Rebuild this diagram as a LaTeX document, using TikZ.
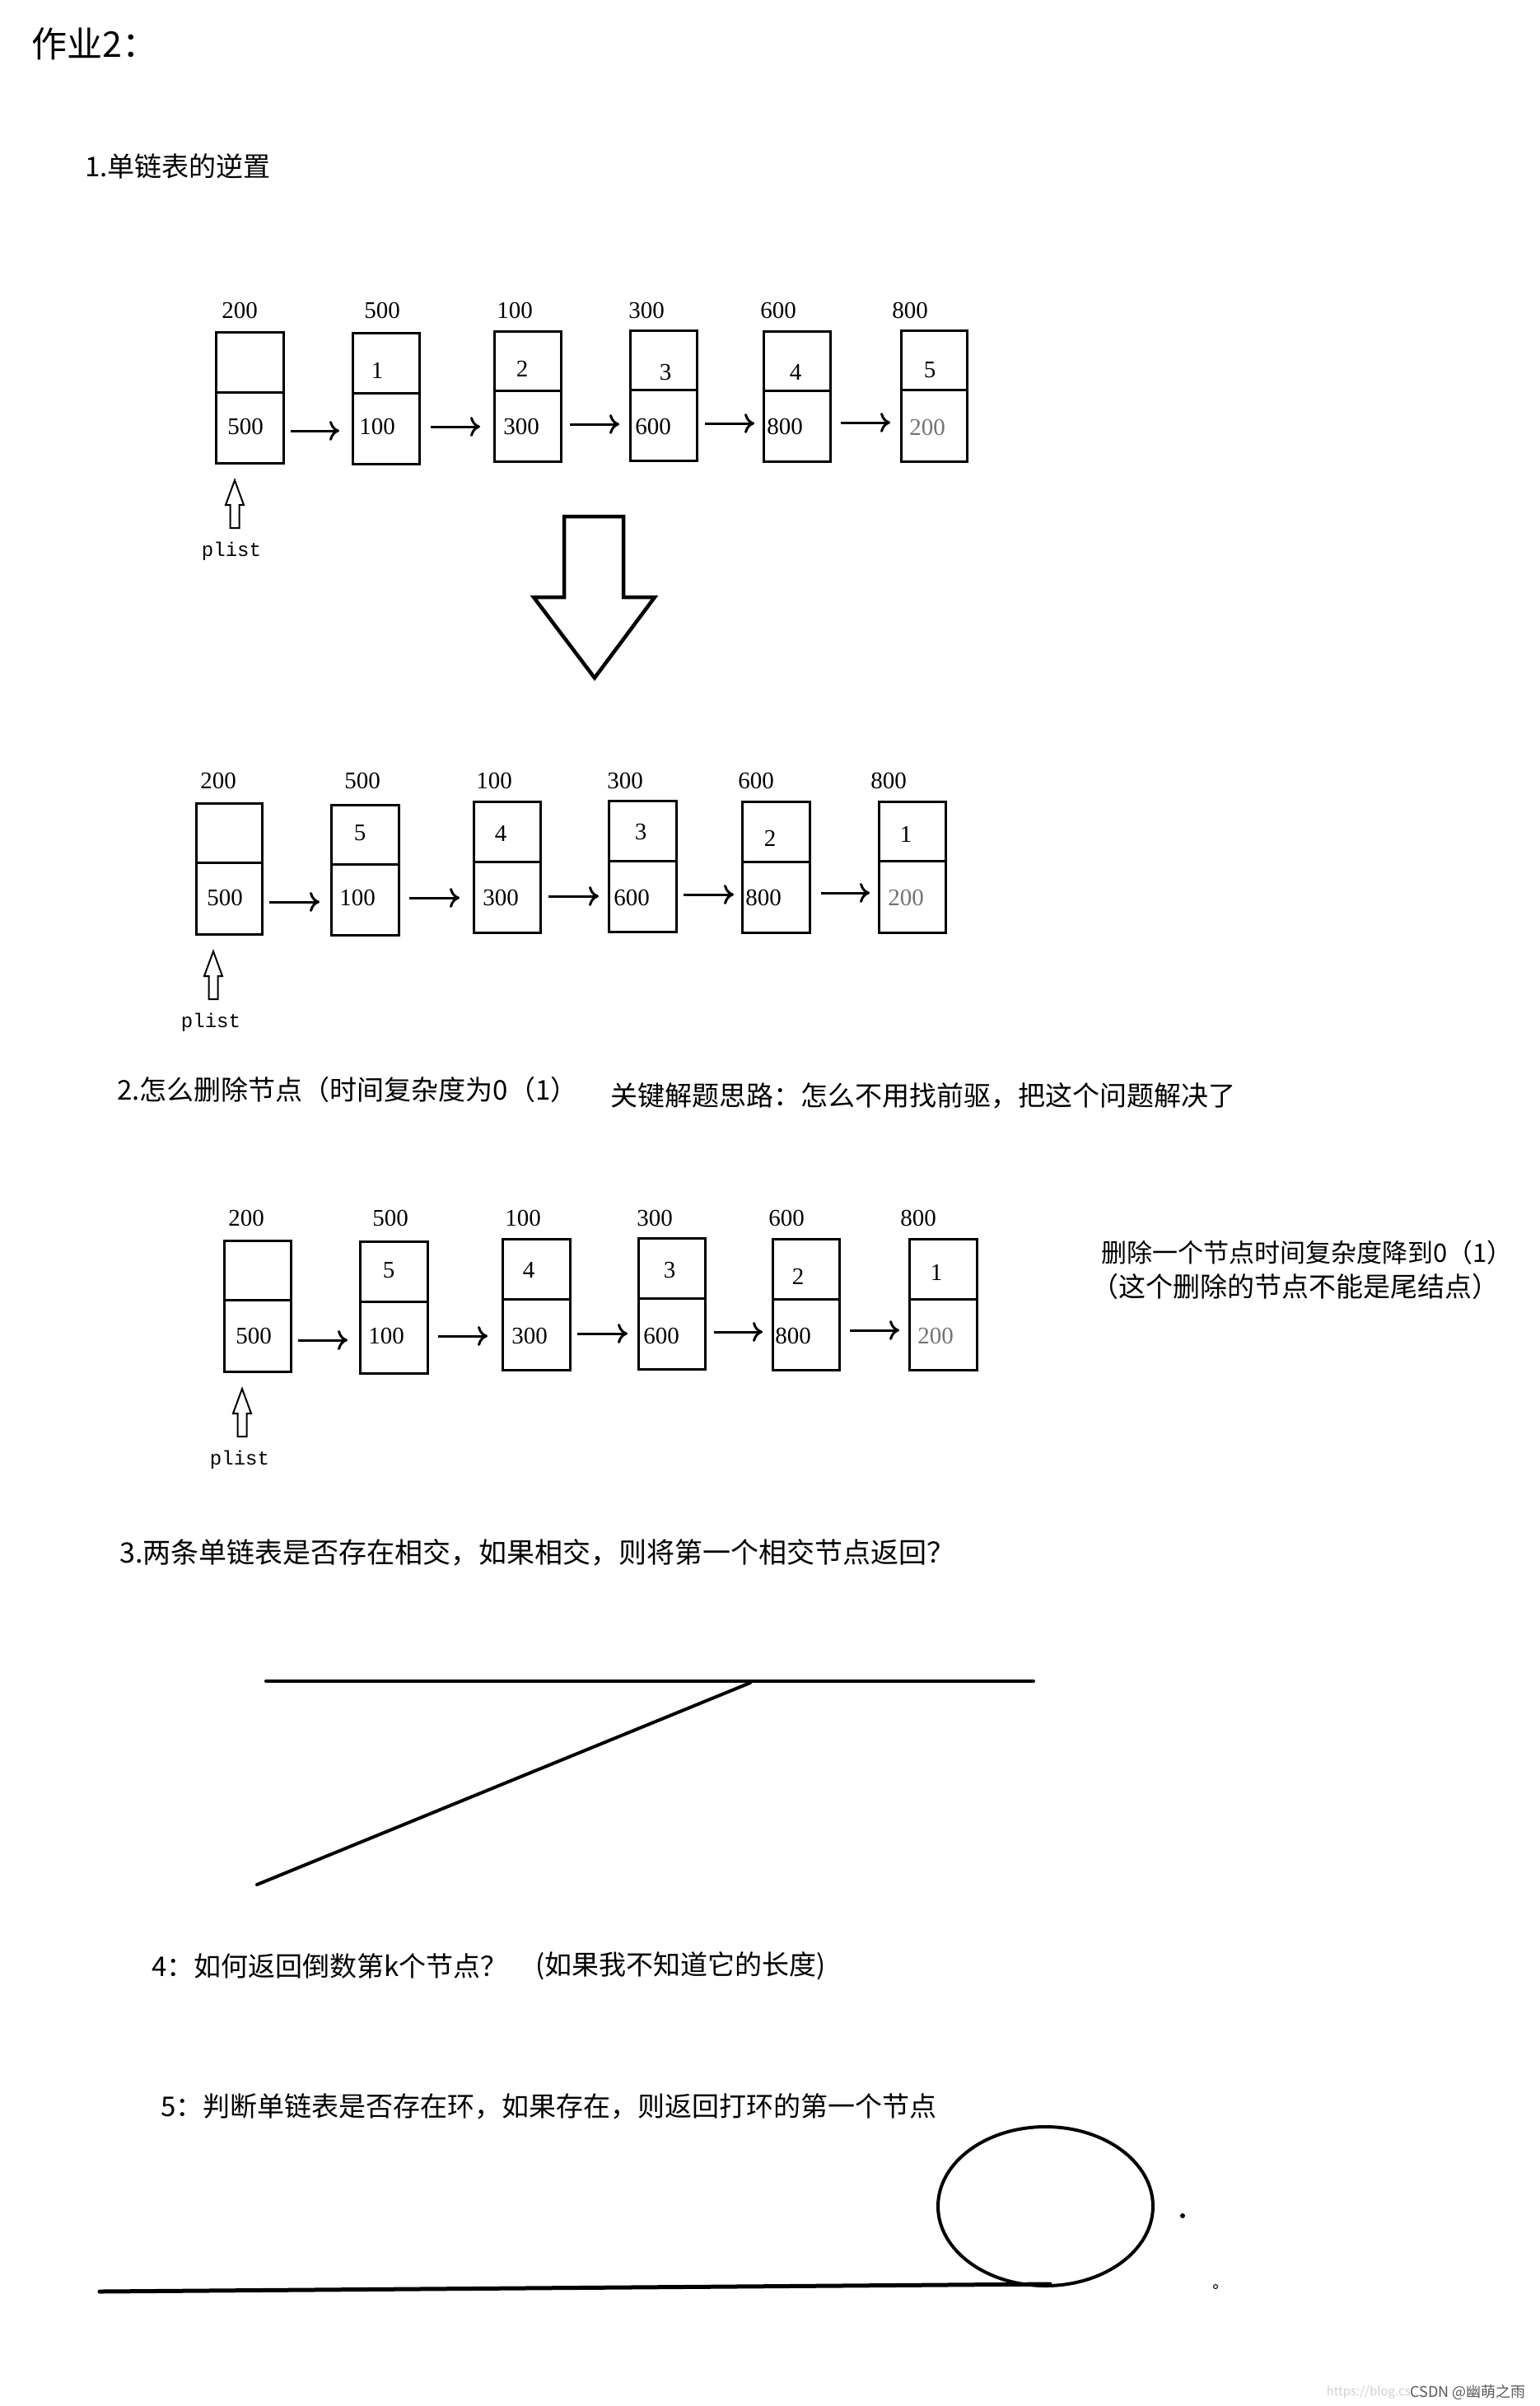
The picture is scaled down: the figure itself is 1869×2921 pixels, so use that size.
\documentclass[tikz,border=0pt]{standalone}
\usepackage{fontspec}
\setmainfont{Liberation Serif}
\newfontfamily\cjk{Noto Sans CJK SC}
\newfontfamily\monof{Liberation Mono}
\usetikzlibrary{arrows.meta,calc}
\newcommand\LLnode[6]{%
  \node[cell, minimum width={#3-#2}, minimum height={#5-#4}] (#1u) at ({(#2+#3)/2},{(#4+#5)/2}) {};
  \node[cell, minimum width={#3-#2}, minimum height={#6-#5}] (#1l) at ({(#2+#3)/2},{(#5+#6)/2}) {};
}
\begin{document}
\begin{tikzpicture}[x=1pt,y=-1pt,
  cell/.style={draw, line width=3pt, inner sep=0pt, outer sep=0pt},
  num/.style={font=\fontsize{29}{34}\selectfont, inner sep=0pt},
  numg/.style={num, text=black!55},
  head/.style={font=\cjk\fontsize{33}{40}\selectfont, inner sep=0pt, anchor=west},
  headb/.style={head, font=\cjk\fontsize{34}{40}\selectfont},
  note/.style={head, font=\cjk\fontsize{31}{36}\selectfont},
  noteb/.style={head, font=\cjk\fontsize{33}{38}\selectfont},
  arr/.style={line width=3pt, -{Computer Modern Rightarrow[length=12pt,width=24pt]}},
  hollow/.style={line width=2pt, line join=miter},
  ptr/.style={font=\monof\fontsize{24}{28}\selectfont, inner sep=0pt},
  stroke/.style={line width=4pt, line cap=round},
  wm/.style={font=\cjk\fontsize{18}{20}\selectfont, inner sep=0pt}
]
\fill[white] (0,0) rectangle (1869,2921);
\useasboundingbox (0,0) rectangle (1869,2921);

% headings
\node[font=\cjk\fontsize{43}{50}\selectfont, inner sep=0pt, anchor=west] (title) at (38,53) {作业2：};
\node[head] (h1) at (103,202) {1.单链表的逆置};
\node[head] (h2) at (142,1323) {2.怎么删除节点（时间复杂度为0（1）};
\node[head] (h2b) at (741,1330) {关键解题思路：怎么不用找前驱，把这个问题解决了};
\node[note] (n1) at (1337,1521) {删除一个节点时间复杂度降到0（1）};
\node[noteb] (n2) at (1325,1562) {（这个删除的节点不能是尾结点）};
\node[headb] (h3) at (145,1885) {3.两条单链表是否存在相交，如果相交，则将第一个相交节点返回？};
\node[head] (h4) at (184,2387) {4：如何返回倒数第k个节点？};
\node[head] (h4b) at (650,2387) {(如果我不知道它的长度)};
\node[head] (h5) at (195,2557) {5：判断单链表是否存在环，如果存在，则返回打环的第一个节点};

% list rows
\LLnode{A1}{262}{344}{403}{476}{562}
\LLnode{A2}{428}{509}{404}{477}{563}
\LLnode{A3}{600}{681}{402}{474}{560}
\LLnode{A4}{765}{846}{401}{473}{559}
\LLnode{A5}{927}{1008}{402}{474}{560}
\LLnode{A6}{1094}{1174}{401}{473}{560}

\LLnode{B1}{238}{318}{975}{1047}{1134}
\LLnode{B2}{402}{484}{977}{1049}{1135}
\LLnode{B3}{575}{656}{973}{1046}{1132}
\LLnode{B4}{739}{821}{972}{1045}{1131}
\LLnode{B5}{901}{983}{973}{1046}{1132}
\LLnode{B6}{1067}{1148}{973}{1045}{1132}

\LLnode{C1}{272}{353}{1506}{1578}{1665}
\LLnode{C2}{437}{519}{1507}{1580}{1667}
\LLnode{C3}{610}{692}{1504}{1577}{1663}
\LLnode{C4}{775}{856}{1503}{1576}{1662}
\LLnode{C5}{938}{1019}{1504}{1577}{1663}
\LLnode{C6}{1104}{1186}{1504}{1577}{1663}

% texts in and above the boxes
\foreach \nm/\x/\y/\t in {
  A1a/291/377/200, A2a/464/377/500, A3a/625/377/100, A4a/785/377/300, A5a/945/377/600, A6a/1105/377/800,
  A2v/458/450/1, A3v/634/448/2, A4v/808/452/3, A5v/966/452/4, A6v/1129/449/5,
  A1n/298/518/500, A2n/458/518/100, A3n/633/518/300, A4n/793/518/600, A5n/953/518/800,
  B1a/265/948/200, B2a/440/948/500, B3a/600/948/100, B4a/759/948/300, B5a/918/948/600, B6a/1079/948/800,
  B2v/437/1011/5, B3v/608/1012/4, B4v/778/1010/3, B5v/935/1018/2, B6v/1100/1013/1,
  B1n/273/1090/500, B2n/434/1090/100, B3n/608/1090/300, B4n/767/1090/600, B5n/927/1090/800,
  C1a/299/1479/200, C2a/474/1479/500, C3a/635/1479/100, C4a/795/1479/300, C5a/955/1479/600, C6a/1115/1479/800,
  C2v/472/1542/5, C3v/642/1542/4, C4v/813/1542/3, C5v/969/1550/2, C6v/1137/1545/1,
  C1n/308/1622/500, C2n/469/1622/100, C3n/643/1622/300, C4n/803/1622/600, C5n/963/1622/800}
  \node[num] (\nm) at (\x,\y) {\t};
\node[numg] (A6n) at (1126,519) {200};
\node[numg] (B6n) at (1100,1090) {200};
\node[numg] (C6n) at (1136,1622) {200};

% connectors
\foreach \a/\b/\ys/\sa/\sb in {
  A1l/A2l/-4/9/16, A2l/A3l/2/14/17, A3l/A4l/2/11/13, A4l/A5l/2/10/11, A5l/A6l/4/13/13,
  B1l/B2l/-4.5/9/14, B2l/B3l/2/13/17, B3l/B4l/1/10/12, B4l/B5l/2/9/10, B5l/B6l/5/14/11,
  C1l/C2l/-5.5/9/15, C2l/C3l/1.5/13/18, C3l/C4l/1/9/13, C4l/C5l/2/11/12, C5l/C6l/5/13/12}
  \draw[arr, shorten <=\sa pt, shorten >=\sb pt] ([yshift=\ys pt]\a.east) -- ([yshift=\ys pt]\a.east -| \b.west);

% plist pointers
\foreach \r/\x/\y/\px/\py in {A/285/583/281/669, B/259/1155/256/1241, C/294/1686/291/1772}{
  \coordinate (\r tip) at (\x,\y);
  \draw[hollow] (\r tip) -- ++(11,30) -- ++(-5.5,0) -- ++(0,28) -- ++(-11,0) -- ++(0,-28) -- ++(-5.5,0) -- cycle;
  \node[ptr] (\r plist) at (\px,\py) {plist};
}

% big down arrow
\draw[line width=4.5pt, line join=miter] (685,627) -- (757,627) -- (757,725) -- (795,725) -- (722,823) -- (648,725) -- (685,725) -- cycle;

% intersecting lists
\coordinate (L1a) at (323,2041);
\coordinate (L1b) at (1255,2041);
\coordinate (L2a) at (911,2043);
\coordinate (L2b) at (312,2288);
\draw[stroke] (L1a) -- (L1b);
\draw[stroke] (L2a) -- (L2b);

% list with a loop
\coordinate (ring) at (1269.5,2678.5);
\draw[line width=4pt] (ring) ellipse [x radius=130.5, y radius=96.5];
\coordinate (T1) at (121,2782);
\coordinate (T2) at (1275,2773);
\draw[line width=5pt, line cap=round] (T1) -- (T2);
\fill (1436,2690) circle [radius=3];
\draw[line width=1pt] (1476,2776) circle [radius=2.5];

% watermark
\node[wm, font=\cjk\fontsize{15}{18}\selectfont, text=black!18, anchor=east] (url) at (1713,2904) {https://blog.cs};
\node[wm, text=black!65, anchor=east] (wmark) at (1853,2904) {CSDN @幽萌之雨};
\end{tikzpicture}
\end{document}
